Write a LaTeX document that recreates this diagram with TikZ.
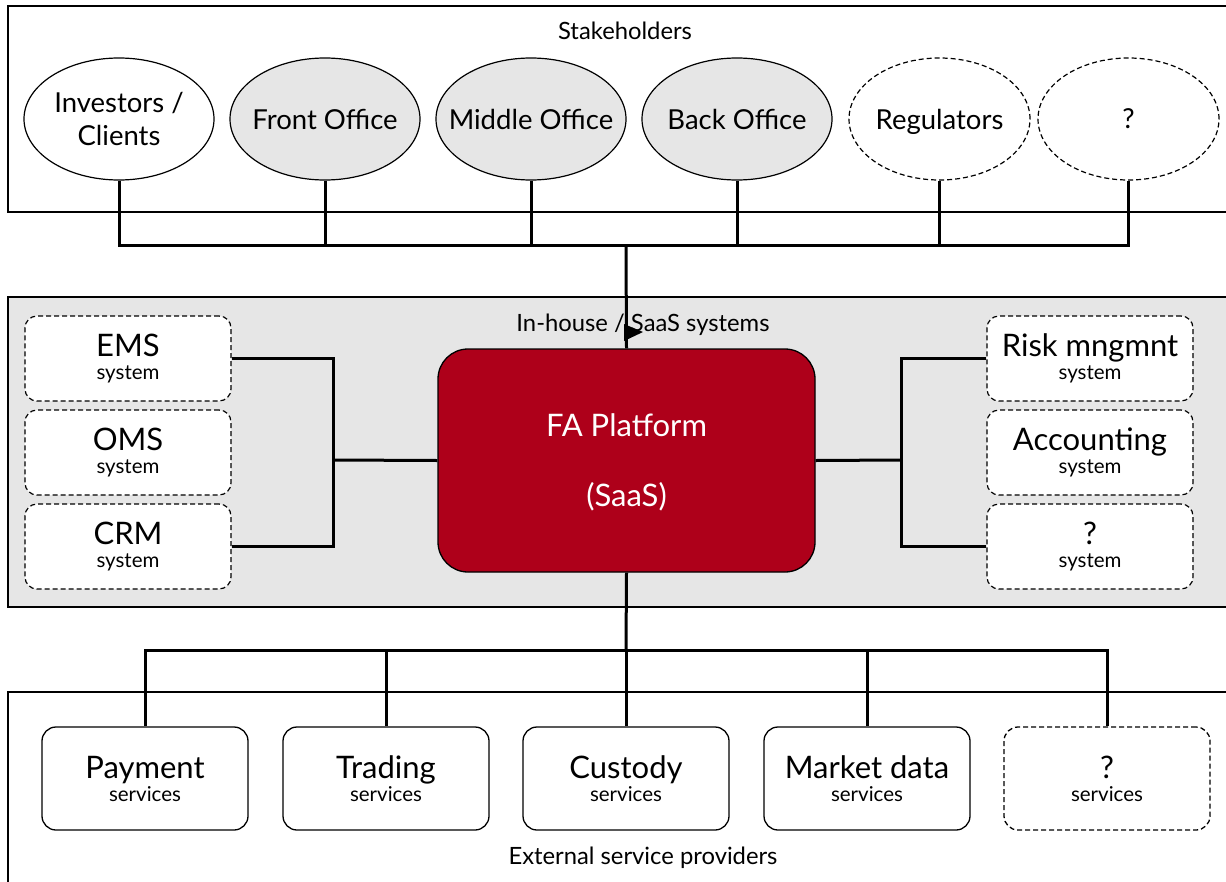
\documentclass[tikz,border=0pt]{standalone}
\usepackage{fontspec}
\setmainfont{Lato}
\usetikzlibrary{shapes.geometric}
\definecolor{bandgray}{HTML}{E6E6E6}
\definecolor{fared}{HTML}{AE001A}
\newcommand{\bigtxt}[1]{{\fontsize{31}{23}\selectfont #1}}
\newcommand{\zb}[1]{\makebox[0pt][c]{#1}}
\newcommand{\nodepth}[1]{\raisebox{0pt}[\height][0pt]{#1}}
\begin{document}
\begin{tikzpicture}[x=1pt,y=-1pt,
  dsh/.style={dash pattern=on 5pt off 3pt},
  band/.style={draw=black,line width=1.2pt},
  stake/.style={ellipse,draw=black,line width=1.2pt,minimum width=190pt,minimum height=122pt,inner sep=0pt,align=center,font=\fontsize{27.5}{33}\selectfont},
  stakegray/.style={stake,fill=bandgray},
  stakedash/.style={stake,dsh,fill=white,minimum width=181pt},
  sysbox/.style={rectangle,rounded corners=12pt,draw=black,line width=1.2pt,fill=white,dsh,minimum width=206pt,minimum height=85pt,inner sep=0pt,align=center,font=\fontsize{20.5}{23}\selectfont},
  svcbox/.style={rectangle,rounded corners=14pt,draw=black,line width=1.3pt,fill=white,minimum width=206pt,minimum height=103pt,inner sep=0pt,align=center,font=\fontsize{20.5}{23}\selectfont},
  conn/.style={draw=black,line width=3pt},
  lbl/.style={font=\fontsize{23.8}{26}\selectfont,inner sep=0pt}
]
\useasboundingbox (0,0) rectangle (1226,881);
% bands
\draw[band,fill=white] (8,6) rectangle (1240,212);
\draw[band,fill=bandgray] (8,297) rectangle (1240,607);
\draw[band,fill=white] (8,692) rectangle (1240,895);
\node[lbl] (stk) at (625,31) {Stakeholders};
\node[lbl] (ext) at (643,858) {External service providers};

% stakeholders
\node[stake,fill=white] (inv) at (119,119) {\zb{Investors /}\\\zb{Clients}};
\node[stakegray] (fo) at (325,119) {\zb{Front Office}};
\node[stakegray] (mo) at (531,119) {\zb{Middle Office}};
\node[stakegray] (bo) at (737,119) {\zb{Back Office}};
\node[stakedash] (reg) at (939.5,119) {\zb{\nodepth{Regulators}}};
\node[stakedash] (q1) at (1128.5,119) {\zb{?\vphantom{F}}};

% FA platform
\node[rectangle,rounded corners=30pt,draw=black,line width=1.3pt,fill=fared,minimum width=377pt,minimum height=223pt,inner sep=0pt,align=center,text=white,font=\fontsize{31}{70}\selectfont] (fa) at (626.5,460.5) {FA Platform\\\nodepth{(SaaS)}};

% top connectors
\coordinate (hub) at (626,245);
\foreach \n in {inv,fo,mo,bo,reg,q1} { \draw[conn] (\n.south) |- (hub); }
\draw[conn] (hub) -- (fa.north);
\node[lbl] (inh) at (643,324.5) {In-house / SaaS systems};
\fill[black] (624,324) -- (643,332) -- (624,341) -- cycle;

% left systems
\node[sysbox] (ems) at (128,358.5) {\bigtxt{EMS}\\system};
\node[sysbox] (oms) at (128,452.5) {\bigtxt{OMS}\\system};
\node[sysbox] (crm) at (128,546.5) {\bigtxt{CRM}\\system};
% right systems
\node[sysbox] (risk) at (1090,358.5) {\bigtxt{Risk mngmnt}\\system};
\node[sysbox] (acc) at (1090,452.5) {\bigtxt{Accounting}\\system};
\node[sysbox] (q2) at (1090,546.5) {\bigtxt{?}\\system};

\coordinate (lj) at (333,460);
\draw[conn] (ems.east) -| (lj);
\draw[conn] (crm.east) -| (lj);
\draw[conn] (lj) -- (fa.west);
\coordinate (rj) at (901,460);
\draw[conn] (risk.west) -| (rj);
\draw[conn] (q2.west) -| (rj);
\draw[conn] (rj) -- (fa.east);

% services
\node[svcbox] (pay) at (145,778.5) {\bigtxt{Payment}\\services};
\node[svcbox] (trd) at (386,778.5) {\bigtxt{Trading}\\services};
\node[svcbox] (cus) at (626,778.5) {\bigtxt{Custody}\\services};
\node[svcbox] (mkt) at (867,778.5) {\bigtxt{Market data}\\services};
\node[svcbox,dsh] (q3) at (1107,778.5) {\bigtxt{?}\\services};

\coordinate (bhub) at (626,650);
\draw[conn] (fa.south) -- (bhub);
\foreach \n in {pay,trd,cus,mkt,q3} { \draw[conn] (bhub) -| (\n.north); }
\end{tikzpicture}
\end{document}
